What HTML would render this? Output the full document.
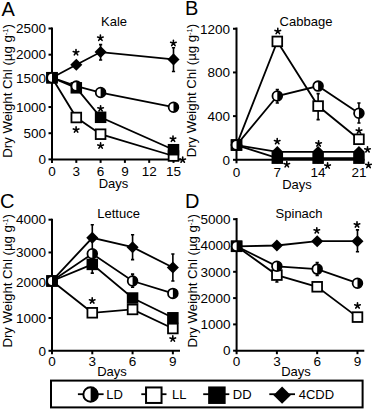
<!DOCTYPE html><html><head><meta charset="utf-8"><style>html,body{margin:0;padding:0;background:#fff;width:373px;height:410px;overflow:hidden}svg{display:block}</style></head><body>
<svg width="373" height="410" viewBox="0 0 373 410" font-family='"Liberation Sans", sans-serif' fill="#000">
<text x="1.5" y="15.6" font-size="20">A</text>
<text x="114" y="25.8" font-size="13" text-anchor="middle">Kale</text>
<text transform="translate(12.2 90.9) rotate(-90)" font-size="13.2" text-anchor="middle">Dry Weight Chl (µg g<tspan font-size="7.5" dy="-3.8">-1</tspan><tspan dy="3.8">)</tspan></text>
<path d="M52 27.6 V159.4 H181" stroke="#000" stroke-width="2.0" fill="none" stroke-linejoin="miter"/>
<path d="M48.5 159.4 H52" stroke="#000" stroke-width="2.0"/>
<text x="46" y="164.15" font-size="13.5" text-anchor="end">0</text>
<path d="M48.5 133.22 H52" stroke="#000" stroke-width="2.0"/>
<text x="46" y="137.97" font-size="13.5" text-anchor="end">500</text>
<path d="M48.5 107.04 H52" stroke="#000" stroke-width="2.0"/>
<text x="46" y="111.79" font-size="13.5" text-anchor="end">1000</text>
<path d="M48.5 80.86 H52" stroke="#000" stroke-width="2.0"/>
<text x="46" y="83.11" font-size="13.5" text-anchor="end">1500</text>
<path d="M48.5 54.68 H52" stroke="#000" stroke-width="2.0"/>
<text x="46" y="59.43" font-size="13.5" text-anchor="end">2000</text>
<path d="M48.5 28.5 H52" stroke="#000" stroke-width="2.0"/>
<text x="46" y="33.25" font-size="13.5" text-anchor="end">2500</text>
<path d="M52 159.4 V162.9" stroke="#000" stroke-width="2.0"/>
<text x="52" y="176.2" font-size="13.5" text-anchor="middle">0</text>
<path d="M76.3 159.4 V162.9" stroke="#000" stroke-width="2.0"/>
<text x="76.3" y="176.2" font-size="13.5" text-anchor="middle">3</text>
<path d="M100.6 159.4 V162.9" stroke="#000" stroke-width="2.0"/>
<text x="100.6" y="176.2" font-size="13.5" text-anchor="middle">6</text>
<path d="M124.9 159.4 V162.9" stroke="#000" stroke-width="2.0"/>
<text x="124.9" y="176.2" font-size="13.5" text-anchor="middle">9</text>
<path d="M149.2 159.4 V162.9" stroke="#000" stroke-width="2.0"/>
<text x="149.2" y="176.2" font-size="13.5" text-anchor="middle">12</text>
<path d="M173.5 159.4 V162.9" stroke="#000" stroke-width="2.0"/>
<text x="173.5" y="176.2" font-size="13.5" text-anchor="middle">15</text>
<path d="M52 77.72 L76.3 86.1 L100.6 92.54 L173.5 107.2" stroke="#000" stroke-width="1.8" fill="none"/>
<path d="M52 77.72 L76.3 117.51 L100.6 134.21 L173.5 156" stroke="#000" stroke-width="1.8" fill="none"/>
<path d="M52 77.72 L76.3 87.82 L100.6 117.3 L173.5 149.71" stroke="#000" stroke-width="1.8" fill="none"/>
<path d="M52 77.72 L76.3 64.79 L100.6 52.06 L173.5 59.39" stroke="#000" stroke-width="1.8" fill="none"/>
<path d="M100.6 44.6 V60 M99 44.6 H102.2 M99 60 H102.2" stroke="#000" stroke-width="1.6" fill="none"/>
<path d="M173.5 47.7 V71.5 M171.9 47.7 H175.1 M171.9 71.5 H175.1" stroke="#000" stroke-width="1.6" fill="none"/>
<rect x="47.15" y="72.87" width="9.7" height="9.7" fill="#fff" stroke="#000" stroke-width="1.8"/>
<rect x="46.25" y="71.97" width="11.5" height="11.5" fill="#000"/>
<path d="M52 71.68 L58.04 77.72 L52 83.76 L45.96 77.72 Z" fill="#000"/>
<circle cx="52" cy="77.72" r="4.85" fill="#fff" stroke="#000" stroke-width="1.8"/>
<path d="M52 72.87 A4.85 4.85 0 0 1 52 82.57 Z" fill="#000"/>
<rect x="71.45" y="112.66" width="9.7" height="9.7" fill="#fff" stroke="#000" stroke-width="1.8"/>
<rect x="70.55" y="82.07" width="11.5" height="11.5" fill="#000"/>
<circle cx="76.3" cy="86.1" r="4.85" fill="#fff" stroke="#000" stroke-width="1.8"/>
<path d="M76.3 81.25 A4.85 4.85 0 0 1 76.3 90.95 Z" fill="#000"/>
<path d="M76.3 58.75 L82.34 64.79 L76.3 70.82 L70.26 64.79 Z" fill="#000"/>
<rect x="95.75" y="129.36" width="9.7" height="9.7" fill="#fff" stroke="#000" stroke-width="1.8"/>
<rect x="94.85" y="111.55" width="11.5" height="11.5" fill="#000"/>
<circle cx="100.6" cy="92.54" r="4.85" fill="#fff" stroke="#000" stroke-width="1.8"/>
<path d="M100.6 87.69 A4.85 4.85 0 0 1 100.6 97.39 Z" fill="#000"/>
<path d="M100.6 46.02 L106.64 52.06 L100.6 58.1 L94.56 52.06 Z" fill="#000"/>
<rect x="168.65" y="151.15" width="9.7" height="9.7" fill="#fff" stroke="#000" stroke-width="1.8"/>
<rect x="167.75" y="143.96" width="11.5" height="11.5" fill="#000"/>
<circle cx="173.5" cy="107.2" r="4.85" fill="#fff" stroke="#000" stroke-width="1.8"/>
<path d="M173.5 102.35 A4.85 4.85 0 0 1 173.5 112.05 Z" fill="#000"/>
<path d="M173.5 53.35 L179.54 59.39 L173.5 65.43 L167.46 59.39 Z" fill="#000"/>
<path d="M76 52.5 L76 49.6 M76 52.5 L78.76 51.6 M76 52.5 L77.7 54.85 M76 52.5 L74.3 54.85 M76 52.5 L73.24 51.6 " stroke="#000" stroke-width="1.6" stroke-linecap="round" fill="none"/>
<path d="M100.4 38 L100.4 35.1 M100.4 38 L103.16 37.1 M100.4 38 L102.1 40.35 M100.4 38 L98.7 40.35 M100.4 38 L97.64 37.1 " stroke="#000" stroke-width="1.6" stroke-linecap="round" fill="none"/>
<path d="M173.4 43.2 L173.4 40.3 M173.4 43.2 L176.16 42.3 M173.4 43.2 L175.1 45.55 M173.4 43.2 L171.7 45.55 M173.4 43.2 L170.64 42.3 " stroke="#000" stroke-width="1.6" stroke-linecap="round" fill="none"/>
<path d="M76.1 129.8 L76.1 126.9 M76.1 129.8 L78.86 128.9 M76.1 129.8 L77.8 132.15 M76.1 129.8 L74.4 132.15 M76.1 129.8 L73.34 128.9 " stroke="#000" stroke-width="1.6" stroke-linecap="round" fill="none"/>
<path d="M100.6 108.6 L100.6 105.7 M100.6 108.6 L103.36 107.7 M100.6 108.6 L102.3 110.95 M100.6 108.6 L98.9 110.95 M100.6 108.6 L97.84 107.7 " stroke="#000" stroke-width="1.6" stroke-linecap="round" fill="none"/>
<path d="M100.6 145.8 L100.6 142.9 M100.6 145.8 L103.36 144.9 M100.6 145.8 L102.3 148.15 M100.6 145.8 L98.9 148.15 M100.6 145.8 L97.84 144.9 " stroke="#000" stroke-width="1.6" stroke-linecap="round" fill="none"/>
<path d="M173 139 L173 136.1 M173 139 L175.76 138.1 M173 139 L174.7 141.35 M173 139 L171.3 141.35 M173 139 L170.24 138.1 " stroke="#000" stroke-width="1.6" stroke-linecap="round" fill="none"/>
<path d="M182.7 159.9 L182.7 157 M182.7 159.9 L185.46 159 M182.7 159.9 L184.4 162.25 M182.7 159.9 L181 162.25 M182.7 159.9 L179.94 159 " stroke="#000" stroke-width="1.6" stroke-linecap="round" fill="none"/>
<text x="113.5" y="187.7" font-size="13" text-anchor="middle">Days</text>
<text x="185" y="15.4" font-size="20">B</text>
<text x="306" y="26" font-size="13" text-anchor="middle">Cabbage</text>
<text transform="translate(196.2 90.6) rotate(-90)" font-size="13.2" text-anchor="middle">Dry Weight Chl (µg g<tspan font-size="7.5" dy="-3.8">-1</tspan><tspan dy="3.8">)</tspan></text>
<path d="M236.5 27.6 V159.8 H364.5" stroke="#000" stroke-width="2.0" fill="none" stroke-linejoin="miter"/>
<path d="M233 159.8 H236.5" stroke="#000" stroke-width="2.0"/>
<text x="230" y="164.55" font-size="13.5" text-anchor="end">0</text>
<path d="M233 116.12 H236.5" stroke="#000" stroke-width="2.0"/>
<text x="230" y="120.87" font-size="13.5" text-anchor="end">400</text>
<path d="M233 72.44 H236.5" stroke="#000" stroke-width="2.0"/>
<text x="230" y="77.19" font-size="13.5" text-anchor="end">800</text>
<path d="M233 28.76 H236.5" stroke="#000" stroke-width="2.0"/>
<text x="230" y="33.51" font-size="13.5" text-anchor="end">1200</text>
<path d="M236.5 159.8 V163.3" stroke="#000" stroke-width="2.0"/>
<text x="236.5" y="176.6" font-size="13.5" text-anchor="middle">0</text>
<path d="M277.31 159.8 V163.3" stroke="#000" stroke-width="2.0"/>
<text x="277.31" y="176.6" font-size="13.5" text-anchor="middle">7</text>
<path d="M318.12 159.8 V163.3" stroke="#000" stroke-width="2.0"/>
<text x="318.12" y="176.6" font-size="13.5" text-anchor="middle">14</text>
<path d="M358.93 159.8 V163.3" stroke="#000" stroke-width="2.0"/>
<text x="358.93" y="176.6" font-size="13.5" text-anchor="middle">21</text>
<path d="M236.5 145.06 L277.31 96.03 L318.12 86.09 L358.93 113.28" stroke="#000" stroke-width="1.8" fill="none"/>
<path d="M236.5 145.06 L277.31 41.43 L318.12 106.07 L358.93 139.27" stroke="#000" stroke-width="1.8" fill="none"/>
<path d="M236.5 145.06 L277.31 158.16 L318.12 158.16 L358.93 158.16" stroke="#000" stroke-width="1.8" fill="none"/>
<path d="M236.5 145.06 L277.31 151.94 L318.12 151.94 L358.93 151.94" stroke="#000" stroke-width="1.8" fill="none"/>
<path d="M277.31 89.5 V103 M275.71 89.5 H278.91 M275.71 103 H278.91" stroke="#000" stroke-width="1.6" fill="none"/>
<path d="M318.12 93.6 V119.6 M316.52 93.6 H319.72 M316.52 119.6 H319.72" stroke="#000" stroke-width="1.6" fill="none"/>
<path d="M358.93 103 V123 M357.33 103 H360.53 M357.33 123 H360.53" stroke="#000" stroke-width="1.6" fill="none"/>
<rect x="231.65" y="140.21" width="9.7" height="9.7" fill="#fff" stroke="#000" stroke-width="1.8"/>
<rect x="230.75" y="139.31" width="11.5" height="11.5" fill="#000"/>
<path d="M236.5 139.02 L242.54 145.06 L236.5 151.1 L230.46 145.06 Z" fill="#000"/>
<circle cx="236.5" cy="145.06" r="4.85" fill="#fff" stroke="#000" stroke-width="1.8"/>
<path d="M236.5 140.21 A4.85 4.85 0 0 1 236.5 149.91 Z" fill="#000"/>
<path d="M277.31 145.9 L283.35 151.94 L277.31 157.98 L271.27 151.94 Z" fill="#000"/>
<rect x="271.56" y="152.41" width="11.5" height="11.5" fill="#000"/>
<rect x="272.46" y="36.58" width="9.7" height="9.7" fill="#fff" stroke="#000" stroke-width="1.8"/>
<circle cx="277.31" cy="96.03" r="4.85" fill="#fff" stroke="#000" stroke-width="1.8"/>
<path d="M277.31 91.18 A4.85 4.85 0 0 1 277.31 100.88 Z" fill="#000"/>
<path d="M318.12 145.9 L324.16 151.94 L318.12 157.98 L312.08 151.94 Z" fill="#000"/>
<rect x="312.37" y="152.41" width="11.5" height="11.5" fill="#000"/>
<rect x="313.27" y="101.22" width="9.7" height="9.7" fill="#fff" stroke="#000" stroke-width="1.8"/>
<circle cx="318.12" cy="86.09" r="4.85" fill="#fff" stroke="#000" stroke-width="1.8"/>
<path d="M318.12 81.24 A4.85 4.85 0 0 1 318.12 90.94 Z" fill="#000"/>
<path d="M358.93 145.9 L364.97 151.94 L358.93 157.98 L352.89 151.94 Z" fill="#000"/>
<rect x="353.18" y="152.41" width="11.5" height="11.5" fill="#000"/>
<rect x="354.08" y="134.42" width="9.7" height="9.7" fill="#fff" stroke="#000" stroke-width="1.8"/>
<circle cx="358.93" cy="113.28" r="4.85" fill="#fff" stroke="#000" stroke-width="1.8"/>
<path d="M358.93 108.43 A4.85 4.85 0 0 1 358.93 118.13 Z" fill="#000"/>
<path d="M277.8 31.3 L277.8 28.4 M277.8 31.3 L280.56 30.4 M277.8 31.3 L279.5 33.65 M277.8 31.3 L276.1 33.65 M277.8 31.3 L275.04 30.4 " stroke="#000" stroke-width="1.6" stroke-linecap="round" fill="none"/>
<path d="M277.2 141.4 L277.2 138.5 M277.2 141.4 L279.96 140.5 M277.2 141.4 L278.9 143.75 M277.2 141.4 L275.5 143.75 M277.2 141.4 L274.44 140.5 " stroke="#000" stroke-width="1.6" stroke-linecap="round" fill="none"/>
<path d="M286.8 164.5 L286.8 161.6 M286.8 164.5 L289.56 163.6 M286.8 164.5 L288.5 166.85 M286.8 164.5 L285.1 166.85 M286.8 164.5 L284.04 163.6 " stroke="#000" stroke-width="1.6" stroke-linecap="round" fill="none"/>
<path d="M318.6 143.7 L318.6 140.8 M318.6 143.7 L321.36 142.8 M318.6 143.7 L320.3 146.05 M318.6 143.7 L316.9 146.05 M318.6 143.7 L315.84 142.8 " stroke="#000" stroke-width="1.6" stroke-linecap="round" fill="none"/>
<path d="M327.6 165.8 L327.6 162.9 M327.6 165.8 L330.36 164.9 M327.6 165.8 L329.3 168.15 M327.6 165.8 L325.9 168.15 M327.6 165.8 L324.84 164.9 " stroke="#000" stroke-width="1.6" stroke-linecap="round" fill="none"/>
<path d="M359 130.8 L359 127.9 M359 130.8 L361.76 129.9 M359 130.8 L360.7 133.15 M359 130.8 L357.3 133.15 M359 130.8 L356.24 129.9 " stroke="#000" stroke-width="1.6" stroke-linecap="round" fill="none"/>
<path d="M367.5 149.6 L367.5 146.7 M367.5 149.6 L370.26 148.7 M367.5 149.6 L369.2 151.95 M367.5 149.6 L365.8 151.95 M367.5 149.6 L364.74 148.7 " stroke="#000" stroke-width="1.6" stroke-linecap="round" fill="none"/>
<path d="M368.5 165.2 L368.5 162.3 M368.5 165.2 L371.26 164.3 M368.5 165.2 L370.2 167.55 M368.5 165.2 L366.8 167.55 M368.5 165.2 L365.74 164.3 " stroke="#000" stroke-width="1.6" stroke-linecap="round" fill="none"/>
<text x="297" y="188.5" font-size="13" text-anchor="middle">Days</text>
<text x="0" y="207.6" font-size="20">C</text>
<text x="118.6" y="218.2" font-size="13" text-anchor="middle">Lettuce</text>
<text transform="translate(11.6 280.8) rotate(-90)" font-size="13.2" text-anchor="middle">Dry Weight Chl (µg g<tspan font-size="7.5" dy="-3.8">-1</tspan><tspan dy="3.8">)</tspan></text>
<path d="M52 218.7 V350.8 H180" stroke="#000" stroke-width="2.0" fill="none" stroke-linejoin="miter"/>
<path d="M48.5 350.8 H52" stroke="#000" stroke-width="2.0"/>
<text x="46" y="355.55" font-size="13.5" text-anchor="end">0</text>
<path d="M48.5 318.02 H52" stroke="#000" stroke-width="2.0"/>
<text x="46" y="322.77" font-size="13.5" text-anchor="end">1000</text>
<path d="M48.5 285.24 H52" stroke="#000" stroke-width="2.0"/>
<text x="46" y="286.99" font-size="13.5" text-anchor="end">2000</text>
<path d="M48.5 252.46 H52" stroke="#000" stroke-width="2.0"/>
<text x="46" y="257.21" font-size="13.5" text-anchor="end">3000</text>
<path d="M48.5 219.68 H52" stroke="#000" stroke-width="2.0"/>
<text x="46" y="224.43" font-size="13.5" text-anchor="end">4000</text>
<path d="M52 350.8 V354.3" stroke="#000" stroke-width="2.0"/>
<text x="52" y="366.4" font-size="13.5" text-anchor="middle">0</text>
<path d="M92.29 350.8 V354.3" stroke="#000" stroke-width="2.0"/>
<text x="92.29" y="366.4" font-size="13.5" text-anchor="middle">3</text>
<path d="M132.58 350.8 V354.3" stroke="#000" stroke-width="2.0"/>
<text x="132.58" y="366.4" font-size="13.5" text-anchor="middle">6</text>
<path d="M172.87 350.8 V354.3" stroke="#000" stroke-width="2.0"/>
<text x="172.87" y="366.4" font-size="13.5" text-anchor="middle">9</text>
<path d="M52 280.98 L92.29 253.8 L132.58 281.01 L172.87 293.4" stroke="#000" stroke-width="1.8" fill="none"/>
<path d="M52 280.98 L92.29 312.78 L132.58 309.43 L172.87 328.51" stroke="#000" stroke-width="1.8" fill="none"/>
<path d="M52 280.98 L92.29 264.39 L132.58 298.02 L172.87 317.79" stroke="#000" stroke-width="1.8" fill="none"/>
<path d="M52 280.98 L92.29 237.81 L132.58 247.22 L172.87 267.51" stroke="#000" stroke-width="1.8" fill="none"/>
<path d="M92.29 224.7 V251 M90.69 224.7 H93.89 M90.69 251 H93.89" stroke="#000" stroke-width="1.6" fill="none"/>
<path d="M132.58 234.7 V259.6 M130.98 234.7 H134.18 M130.98 259.6 H134.18" stroke="#000" stroke-width="1.6" fill="none"/>
<path d="M172.87 254 V281 M171.27 254 H174.47 M171.27 281 H174.47" stroke="#000" stroke-width="1.6" fill="none"/>
<path d="M132.58 274.1 V287.3 M130.98 274.1 H134.18 M130.98 287.3 H134.18" stroke="#000" stroke-width="1.6" fill="none"/>
<path d="M92.29 255.7 V273.1 M90.69 255.7 H93.89 M90.69 273.1 H93.89" stroke="#000" stroke-width="1.6" fill="none"/>
<rect x="47.15" y="276.13" width="9.7" height="9.7" fill="#fff" stroke="#000" stroke-width="1.8"/>
<rect x="46.25" y="275.23" width="11.5" height="11.5" fill="#000"/>
<path d="M52 274.94 L58.04 280.98 L52 287.02 L45.96 280.98 Z" fill="#000"/>
<circle cx="52" cy="280.98" r="4.85" fill="#fff" stroke="#000" stroke-width="1.8"/>
<path d="M52 276.13 A4.85 4.85 0 0 1 52 285.83 Z" fill="#000"/>
<rect x="86.54" y="258.64" width="11.5" height="11.5" fill="#000"/>
<rect x="87.44" y="307.93" width="9.7" height="9.7" fill="#fff" stroke="#000" stroke-width="1.8"/>
<circle cx="92.29" cy="253.8" r="4.85" fill="#fff" stroke="#000" stroke-width="1.8"/>
<path d="M92.29 248.95 A4.85 4.85 0 0 1 92.29 258.65 Z" fill="#000"/>
<path d="M92.29 231.77 L98.33 237.81 L92.29 243.84 L86.25 237.81 Z" fill="#000"/>
<rect x="126.83" y="292.27" width="11.5" height="11.5" fill="#000"/>
<rect x="127.73" y="304.58" width="9.7" height="9.7" fill="#fff" stroke="#000" stroke-width="1.8"/>
<circle cx="132.58" cy="281.01" r="4.85" fill="#fff" stroke="#000" stroke-width="1.8"/>
<path d="M132.58 276.16 A4.85 4.85 0 0 1 132.58 285.86 Z" fill="#000"/>
<path d="M132.58 241.18 L138.62 247.22 L132.58 253.25 L126.54 247.22 Z" fill="#000"/>
<rect x="167.12" y="312.04" width="11.5" height="11.5" fill="#000"/>
<rect x="168.02" y="323.66" width="9.7" height="9.7" fill="#fff" stroke="#000" stroke-width="1.8"/>
<circle cx="172.87" cy="293.4" r="4.85" fill="#fff" stroke="#000" stroke-width="1.8"/>
<path d="M172.87 288.55 A4.85 4.85 0 0 1 172.87 298.25 Z" fill="#000"/>
<path d="M172.87 261.47 L178.91 267.51 L172.87 273.54 L166.83 267.51 Z" fill="#000"/>
<path d="M92.2 300.7 L92.2 297.8 M92.2 300.7 L94.96 299.8 M92.2 300.7 L93.9 303.05 M92.2 300.7 L90.5 303.05 M92.2 300.7 L89.44 299.8 " stroke="#000" stroke-width="1.6" stroke-linecap="round" fill="none"/>
<path d="M172.8 338.8 L172.8 335.9 M172.8 338.8 L175.56 337.9 M172.8 338.8 L174.5 341.15 M172.8 338.8 L171.1 341.15 M172.8 338.8 L170.04 337.9 " stroke="#000" stroke-width="1.6" stroke-linecap="round" fill="none"/>
<text x="112" y="376" font-size="13" text-anchor="middle">Days</text>
<text x="185" y="207.6" font-size="20">D</text>
<text x="299.1" y="218.2" font-size="13" text-anchor="middle">Spinach</text>
<text transform="translate(196.8 280.8) rotate(-90)" font-size="13.2" text-anchor="middle">Dry Weight Chl (µg g<tspan font-size="7.5" dy="-3.8">-1</tspan><tspan dy="3.8">)</tspan></text>
<path d="M236.6 218.1 V350.7 H364.3" stroke="#000" stroke-width="2.0" fill="none" stroke-linejoin="miter"/>
<path d="M233.1 350.7 H236.6" stroke="#000" stroke-width="2.0"/>
<text x="230.5" y="355.45" font-size="13.5" text-anchor="end">0</text>
<path d="M233.1 324.4 H236.6" stroke="#000" stroke-width="2.0"/>
<text x="230.5" y="329.15" font-size="13.5" text-anchor="end">1000</text>
<path d="M233.1 298.1 H236.6" stroke="#000" stroke-width="2.0"/>
<text x="230.5" y="302.85" font-size="13.5" text-anchor="end">2000</text>
<path d="M233.1 271.8 H236.6" stroke="#000" stroke-width="2.0"/>
<text x="230.5" y="276.55" font-size="13.5" text-anchor="end">3000</text>
<path d="M233.1 245.5 H236.6" stroke="#000" stroke-width="2.0"/>
<text x="230.5" y="249.75" font-size="13.5" text-anchor="end">4000</text>
<path d="M233.1 219.2 H236.6" stroke="#000" stroke-width="2.0"/>
<text x="230.5" y="223.95" font-size="13.5" text-anchor="end">5000</text>
<path d="M236.6 350.7 V354.2" stroke="#000" stroke-width="2.0"/>
<text x="236.6" y="366.3" font-size="13.5" text-anchor="middle">0</text>
<path d="M276.89 350.7 V354.2" stroke="#000" stroke-width="2.0"/>
<text x="276.89" y="366.3" font-size="13.5" text-anchor="middle">3</text>
<path d="M317.18 350.7 V354.2" stroke="#000" stroke-width="2.0"/>
<text x="317.18" y="366.3" font-size="13.5" text-anchor="middle">6</text>
<path d="M357.47 350.7 V354.2" stroke="#000" stroke-width="2.0"/>
<text x="357.47" y="366.3" font-size="13.5" text-anchor="middle">9</text>
<path d="M236.6 246.29 L276.89 266.3 L317.18 269.09 L357.47 283.21" stroke="#000" stroke-width="1.8" fill="none"/>
<path d="M236.6 246.29 L276.89 275.09 L317.18 286.79 L357.47 317.11" stroke="#000" stroke-width="1.8" fill="none"/>
<path d="M236.6 246.29 L276.89 245.5 L317.18 241.21 L357.47 241.21" stroke="#000" stroke-width="1.8" fill="none"/>
<path d="M317.18 262.5 V275.4 M315.58 262.5 H318.78 M315.58 275.4 H318.78" stroke="#000" stroke-width="1.6" fill="none"/>
<path d="M276.89 268 V282 M275.29 268 H278.49 M275.29 282 H278.49" stroke="#000" stroke-width="1.6" fill="none"/>
<path d="M357.47 229.9 V251.8 M355.87 229.9 H359.07 M355.87 251.8 H359.07" stroke="#000" stroke-width="1.6" fill="none"/>
<rect x="231.75" y="241.44" width="9.7" height="9.7" fill="#fff" stroke="#000" stroke-width="1.8"/>
<rect x="230.85" y="240.54" width="11.5" height="11.5" fill="#000"/>
<path d="M236.6 240.25 L242.64 246.29 L236.6 252.33 L230.56 246.29 Z" fill="#000"/>
<circle cx="236.6" cy="246.29" r="4.85" fill="#fff" stroke="#000" stroke-width="1.8"/>
<path d="M236.6 241.44 A4.85 4.85 0 0 1 236.6 251.14 Z" fill="#000"/>
<rect x="272.04" y="270.24" width="9.7" height="9.7" fill="#fff" stroke="#000" stroke-width="1.8"/>
<circle cx="276.89" cy="266.3" r="4.85" fill="#fff" stroke="#000" stroke-width="1.8"/>
<path d="M276.89 261.45 A4.85 4.85 0 0 1 276.89 271.15 Z" fill="#000"/>
<path d="M276.89 239.46 L282.93 245.5 L276.89 251.54 L270.85 245.5 Z" fill="#000"/>
<rect x="312.33" y="281.94" width="9.7" height="9.7" fill="#fff" stroke="#000" stroke-width="1.8"/>
<circle cx="317.18" cy="269.09" r="4.85" fill="#fff" stroke="#000" stroke-width="1.8"/>
<path d="M317.18 264.24 A4.85 4.85 0 0 1 317.18 273.94 Z" fill="#000"/>
<path d="M317.18 235.18 L323.22 241.21 L317.18 247.25 L311.14 241.21 Z" fill="#000"/>
<rect x="352.62" y="312.26" width="9.7" height="9.7" fill="#fff" stroke="#000" stroke-width="1.8"/>
<circle cx="357.47" cy="283.21" r="4.85" fill="#fff" stroke="#000" stroke-width="1.8"/>
<path d="M357.47 278.36 A4.85 4.85 0 0 1 357.47 288.06 Z" fill="#000"/>
<path d="M357.47 235.18 L363.51 241.21 L357.47 247.25 L351.43 241.21 Z" fill="#000"/>
<path d="M316.8 230.6 L316.8 227.7 M316.8 230.6 L319.56 229.7 M316.8 230.6 L318.5 232.95 M316.8 230.6 L315.1 232.95 M316.8 230.6 L314.04 229.7 " stroke="#000" stroke-width="1.6" stroke-linecap="round" fill="none"/>
<path d="M357 224.7 L357 221.8 M357 224.7 L359.76 223.8 M357 224.7 L358.7 227.05 M357 224.7 L355.3 227.05 M357 224.7 L354.24 223.8 " stroke="#000" stroke-width="1.6" stroke-linecap="round" fill="none"/>
<path d="M357.5 305.7 L357.5 302.8 M357.5 305.7 L360.26 304.8 M357.5 305.7 L359.2 308.05 M357.5 305.7 L355.8 308.05 M357.5 305.7 L354.74 304.8 " stroke="#000" stroke-width="1.6" stroke-linecap="round" fill="none"/>
<text x="296" y="376" font-size="13" text-anchor="middle">Days</text>
<rect x="51" y="380.6" width="311.6" height="26.8" fill="none" stroke="#000" stroke-width="2"/>
<path d="M77.9 394.2 H103.6" stroke="#000" stroke-width="1.8"/>
<circle cx="90.6" cy="394.5" r="7.25" fill="#fff" stroke="#000" stroke-width="2"/>
<path d="M90.6 387.25 A7.25 7.25 0 0 1 90.6 401.75 Z" fill="#000"/>
<text x="106.3" y="398.6" font-size="13">LD</text>
<path d="M141.3 394.2 H166.5" stroke="#000" stroke-width="1.8"/>
<rect x="146.05" y="387.45" width="15.5" height="15.5" fill="#fff" stroke="#000" stroke-width="2"/>
<text x="172" y="398.6" font-size="13">LL</text>
<path d="M203.2 394.2 H229.3" stroke="#000" stroke-width="1.8"/>
<rect x="208.15" y="386.45" width="17.5" height="17.5" fill="#000"/>
<text x="232.8" y="398.6" font-size="13">DD</text>
<path d="M269.3 394.2 H295" stroke="#000" stroke-width="1.8"/>
<path d="M282.1 386.54 L290.76 395.2 L282.1 403.86 L273.44 395.2 Z" fill="#000"/>
<text x="298.7" y="398.6" font-size="13">4CDD</text>
</svg></body></html>
